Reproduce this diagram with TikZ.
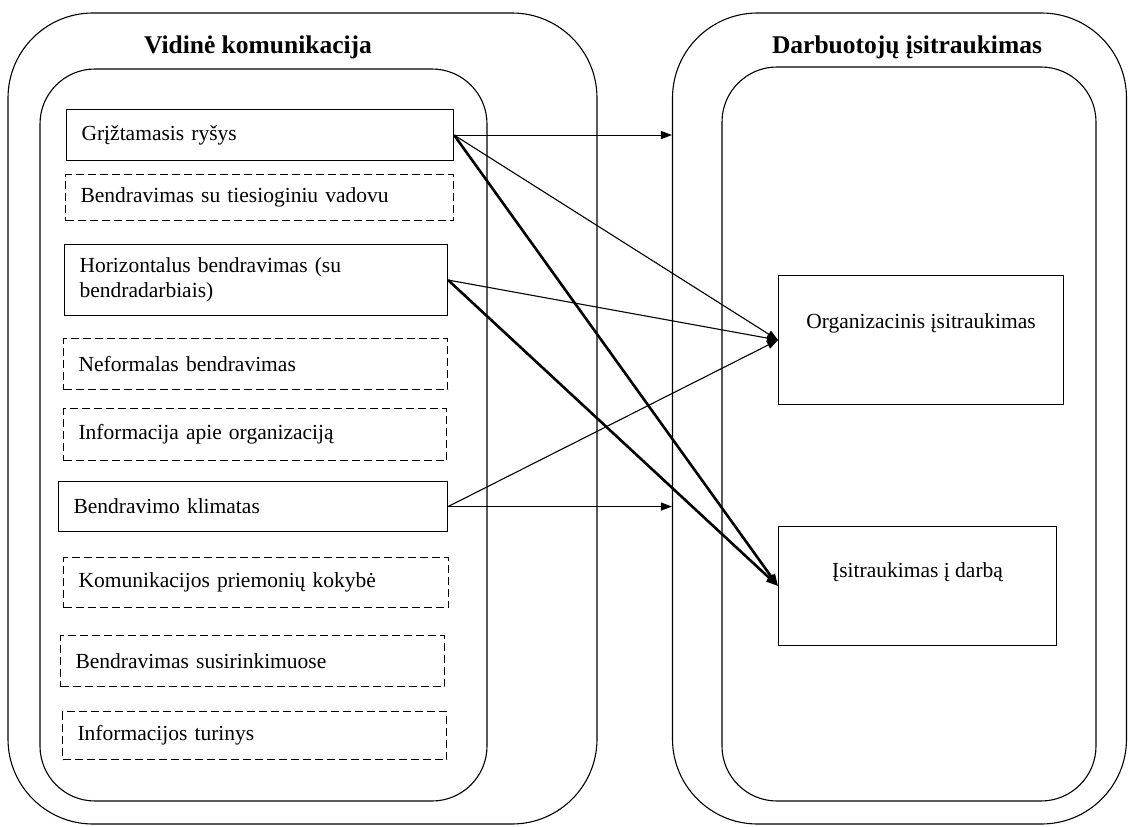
\documentclass[tikz,border=0pt]{standalone}
\usepackage{fontspec}
\setmainfont{Liberation Serif}
\usetikzlibrary{arrows.meta}
\begin{document}
\begin{tikzpicture}[x=1pt,y=-1pt,
  frame/.style={draw, line width=1.1pt, rounded corners=#1, inner sep=0pt},
  itembox/.style={draw, line width=1.1pt, anchor=north west, inner xsep=15pt, inner ysep=0pt,
    align=left, font=\fontsize{21.5}{25}\selectfont},
  dashedbox/.style={itembox, dash pattern=on 8pt off 4pt},
  targetbox/.style={draw, line width=1.1pt, anchor=north west, inner sep=0pt},
  titletext/.style={font=\fontsize{25.5}{30}\selectfont\bfseries},
  bodytext/.style={font=\fontsize{21.5}{25}\selectfont},
  thinarrow/.style={line width=1.1pt, -{Triangle[length=11pt,width=8pt]}},
  thickarrow/.style={line width=2.6pt, -{Triangle[length=12pt,width=9pt]}}
]
\useasboundingbox (0,0) rectangle (1128,827);

% containers
\node[frame=85pt, minimum width=589pt, minimum height=811pt] (LO) at (302.5,418.5) {};
\node[frame=55pt, minimum width=447pt, minimum height=732pt] (LI) at (263.5,435) {};
\node[frame=85pt, minimum width=454pt, minimum height=811pt] (RO) at (899.5,418.5) {};
\node[frame=55pt, minimum width=374pt, minimum height=734pt] (RI) at (909,434) {};

% titles
\node[titletext] (T1) at (258,47) {Vidinė komunikacija};
\node[titletext] (T2) at (907,47) {Darbuotojų įsitraukimas};

% left items
\node[itembox, minimum height=51pt, text width=357pt] (G) at (66,109) {Grįžtamasis ryšys};
\node[dashedbox, minimum height=46pt, text width=358pt] (B) at (65,174) {Bendravimas su tiesioginiu vadovu};
\node[itembox, minimum height=71pt, text width=353pt] (H) at (64,244) {Horizontalus bendravimas (su\\bendradarbiais)};
\node[dashedbox, minimum height=51pt, text width=354pt] (N) at (63,338) {Neformalas bendravimas};
\node[dashedbox, minimum height=52pt, text width=353pt] (I) at (63,408) {Informacija apie organizaciją};
\node[itembox, minimum height=50pt, text width=359pt] (K) at (58,481) {Bendravimo klimatas};
\node[dashedbox, minimum height=50pt, text width=355pt] (Kp) at (63,557) {Komunikacijos priemonių kokybė};
\node[dashedbox, minimum height=51pt, text width=354pt] (S) at (60,635) {Bendravimas susirinkimuose};
\node[dashedbox, minimum height=48pt, text width=354pt] (Tu) at (62,711) {Informacijos turinys};

% right items
\node[targetbox, minimum width=285pt, minimum height=129pt,
  label={[bodytext, anchor=center, yshift=-48pt]north:Organizacinis įsitraukimas}] (Org) at (778,275) {};
\node[targetbox, minimum width=278pt, minimum height=119pt,
  label={[bodytext, anchor=center, yshift=-46pt]north:Įsitraukimas į darbą}] (Isi) at (778,526) {};

% connectors
\draw[thinarrow] (G.east) -- (G.east -| RO.west);
\draw[thinarrow] (G.east) -- (Org.west);
\draw[thickarrow] (G.east) -- (Isi.west);
\draw[thinarrow] (H.east) -- (Org.west);
\draw[thickarrow] (H.east) -- (Isi.west);
\draw[thinarrow] (K.east) -- (Org.west);
\draw[thinarrow] (K.east) -- (K.east -| RO.west);
\end{tikzpicture}
\end{document}
